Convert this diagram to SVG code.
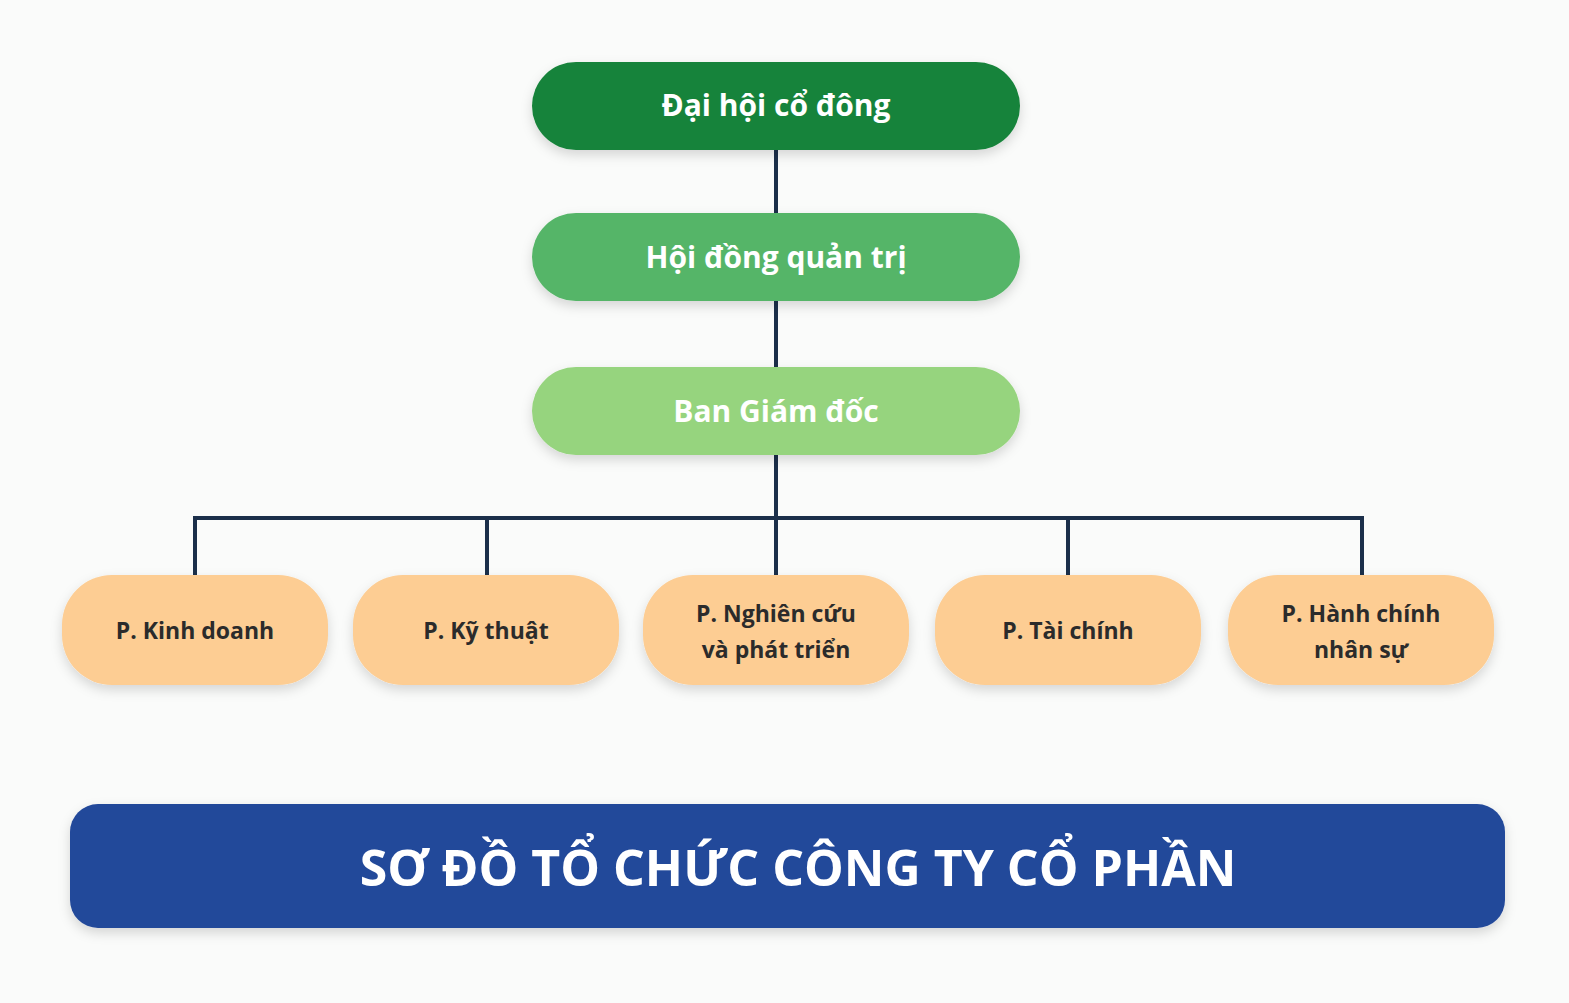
<svg xmlns="http://www.w3.org/2000/svg" width="1569" height="1003" viewBox="0 0 1569 1003">
<defs>
<filter id="sh" x="-10%" y="-20%" width="120%" height="150%"><feDropShadow dx="0" dy="5" stdDeviation="6" flood-color="#000" flood-opacity="0.15"/></filter>
<style>
.t{font-family:"Open Sans","Noto Sans",sans-serif;font-weight:700;text-anchor:middle}
.top{fill:#fff;font-size:30px}
.dep{fill:#2b2b2b;font-size:23px}
.ban{fill:#fff;font-size:50px}
.dp{fill:#fdcd93}
.ln{stroke:#1b2f4a;stroke-width:4;fill:none}
</style>
</defs>
<rect width="1569" height="1003" fill="#fafbfa"/>
<g id="connectors">
<path class="ln" d="M776 150V575M195 575V518H1362V575M487 518V575M1068 518V575"/>
</g>
<g id="n1"><rect x="532" y="62" width="488" height="88" rx="44" fill="#17833a" filter="url(#sh)"/><text class="t top" x="776" y="116">Đại hội cổ đông</text></g>
<g id="n2"><rect x="532" y="213" width="488" height="88" rx="44" fill="#55b567" filter="url(#sh)"/><text class="t top" x="776" y="268">Hội đồng quản trị</text></g>
<g id="n3"><rect x="532" y="367" width="488" height="88" rx="44" fill="#96d47e" filter="url(#sh)"/><text class="t top" x="776" y="422">Ban Giám đốc</text></g>
<g id="d1"><rect class="dp" x="62" y="575" width="266" height="110" rx="50" filter="url(#sh)"/><text class="t dep" x="195" y="639">P. Kinh doanh</text></g>
<g id="d2"><rect class="dp" x="353" y="575" width="266" height="110" rx="50" filter="url(#sh)"/><text class="t dep" x="486" y="639">P. Kỹ thuật</text></g>
<g id="d3"><rect class="dp" x="643" y="575" width="266" height="110" rx="50" filter="url(#sh)"/><text class="t dep" x="776" y="622">P. Nghiên cứu</text><text class="t dep" x="776" y="658">và phát triển</text></g>
<g id="d4"><rect class="dp" x="935" y="575" width="266" height="110" rx="50" filter="url(#sh)"/><text class="t dep" x="1068" y="639">P. Tài chính</text></g>
<g id="d5"><rect class="dp" x="1228" y="575" width="266" height="110" rx="50" filter="url(#sh)"/><text class="t dep" x="1361" y="622">P. Hành chính</text><text class="t dep" x="1361" y="658">nhân sự</text></g>
<g id="banner"><rect x="70" y="804" width="1435" height="124" rx="28" fill="#22489a" filter="url(#sh)"/><text class="t ban" x="798" y="886">SƠ ĐỒ TỔ CHỨC CÔNG TY CỔ PHẦN</text></g>
</svg>
